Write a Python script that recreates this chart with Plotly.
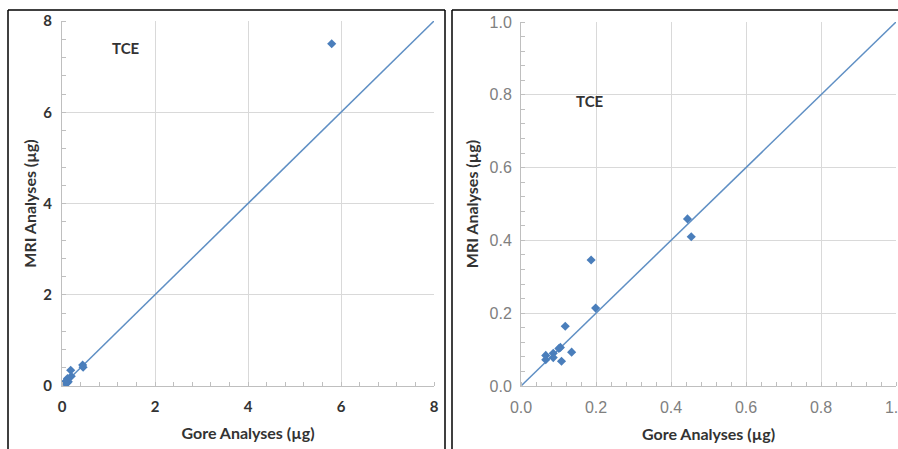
import plotly.graph_objects as go

# Data (µg)
gore = [5.80, 0.444, 0.454, 0.187, 0.199, 0.118, 0.105, 0.101, 0.135, 0.108, 0.086, 0.086, 0.066, 0.066]
mri  = [7.50, 0.459, 0.410, 0.346, 0.214, 0.164, 0.106, 0.103, 0.093, 0.068, 0.090, 0.078, 0.084, 0.072]
ref_left = [0, 8]
ref_right = [0, 1]
left_ticks = [0, 2, 4, 6, 8]
right_ticks = [0.0, 0.2, 0.4, 0.6, 0.8, 1.0]

MARK = "#4a7ebb"
LINE = "#5f8fc4"
GRID = "#d9d9d9"
AX = "#bfbfbf"

fig = go.Figure()
fig.add_trace(go.Scatter(x=ref_left, y=ref_left, mode="lines", line=dict(color=LINE, width=1.5),
                         xaxis="x", yaxis="y", showlegend=False, hoverinfo="skip"))
fig.add_trace(go.Scatter(x=gore, y=mri, mode="markers", marker=dict(symbol="diamond", size=7, color=MARK),
                         xaxis="x", yaxis="y", showlegend=False))
fig.add_trace(go.Scatter(x=ref_right, y=ref_right, mode="lines", line=dict(color=LINE, width=1.5),
                         xaxis="x2", yaxis="y2", showlegend=False, hoverinfo="skip", cliponaxis=True))
fig.add_trace(go.Scatter(x=gore, y=mri, mode="markers", marker=dict(symbol="diamond", size=7, color=MARK),
                         xaxis="x2", yaxis="y2", showlegend=False, cliponaxis=True))

title_font = dict(family="Lato", size=16, color="#333333")
left_tick_font = dict(family="Lato", size=15, color="#333333", weight="bold")
right_tick_font = dict(family="Liberation Sans", size=16, color="#808080")


def ax(minor_dtick, **kw):
    d = dict(showgrid=True, gridcolor=GRID, gridwidth=1, showline=True, linecolor=AX, linewidth=1,
             zeroline=False, ticks="", mirror=False, automargin=False, ticklabeloverflow="allow",
             minor=dict(ticks="inside", ticklen=4, tickcolor=AX, dtick=minor_dtick, showgrid=False))
    d.update(kw)
    return d


fig.update_layout(
    width=898, height=449, margin=dict(l=0, r=0, t=0, b=0),
    paper_bgcolor="white", plot_bgcolor="white",
    xaxis=ax(0.4, domain=[62/898, 434/898], range=[0, 8], tickvals=left_ticks, tickfont=left_tick_font,
             ticklabelstandoff=7,
             title=dict(text="<b>Gore Analyses (µg)</b>", font=title_font, standoff=13), anchor="y"),
    yaxis=ax(0.4, domain=[63/449, 428/449], range=[0, 8], tickvals=left_ticks, tickfont=left_tick_font,
             ticklabelstandoff=6,
             title=dict(text="<b>MRI Analyses (µg)</b>", font=title_font, standoff=2), anchor="x"),
    xaxis2=ax(0.04, domain=[521/898, 896/898], range=[0, 1], tickvals=right_ticks, tickformat=".1f",
              tickfont=right_tick_font, ticklabelstandoff=7,
              title=dict(text="<b>Gore Analyses (µg)</b>", font=title_font, standoff=13), anchor="y2"),
    yaxis2=ax(0.04, domain=[63/449, 427/449], range=[0, 1], tickvals=right_ticks, tickformat=".1f",
              tickfont=right_tick_font, ticklabelstandoff=5,
              title=dict(text="<b>MRI Analyses (µg)</b>", font=title_font, standoff=6), anchor="x2"),
    annotations=[
        dict(text="<b>TCE</b>", x=126/898, y=1-48/449, xref="paper", yref="paper", showarrow=False,
             xanchor="center", yanchor="middle", font=dict(family="Lato", size=15, color="#333333")),
        dict(text="<b>TCE</b>", x=590/898, y=1-101/449, xref="paper", yref="paper", showarrow=False,
             xanchor="center", yanchor="middle", font=dict(family="Lato", size=15, color="#333333")),
    ],
    shapes=[
        dict(type="line", xref="paper", yref="paper", x0=8/898, x1=445/898, y0=1-10/449, y1=1-10/449,
             line=dict(color="black", width=1.5)),
        dict(type="line", xref="paper", yref="paper", x0=8/898, x1=8/898, y0=1-10/449, y1=0,
             line=dict(color="black", width=1.5)),
        dict(type="line", xref="paper", yref="paper", x0=445/898, x1=445/898, y0=1-10/449, y1=0,
             line=dict(color="black", width=1.5)),
        dict(type="line", xref="paper", yref="paper", x0=452/898, x1=1, y0=1-10/449, y1=1-10/449,
             line=dict(color="black", width=1.5)),
        dict(type="line", xref="paper", yref="paper", x0=452/898, x1=452/898, y0=1-10/449, y1=0,
             line=dict(color="black", width=1.5)),
    ],
)

fig.write_html("out.html", config={"displayModeBar": False},
               post_script="document.body.style.margin='0';document.body.style.overflow='hidden';")
